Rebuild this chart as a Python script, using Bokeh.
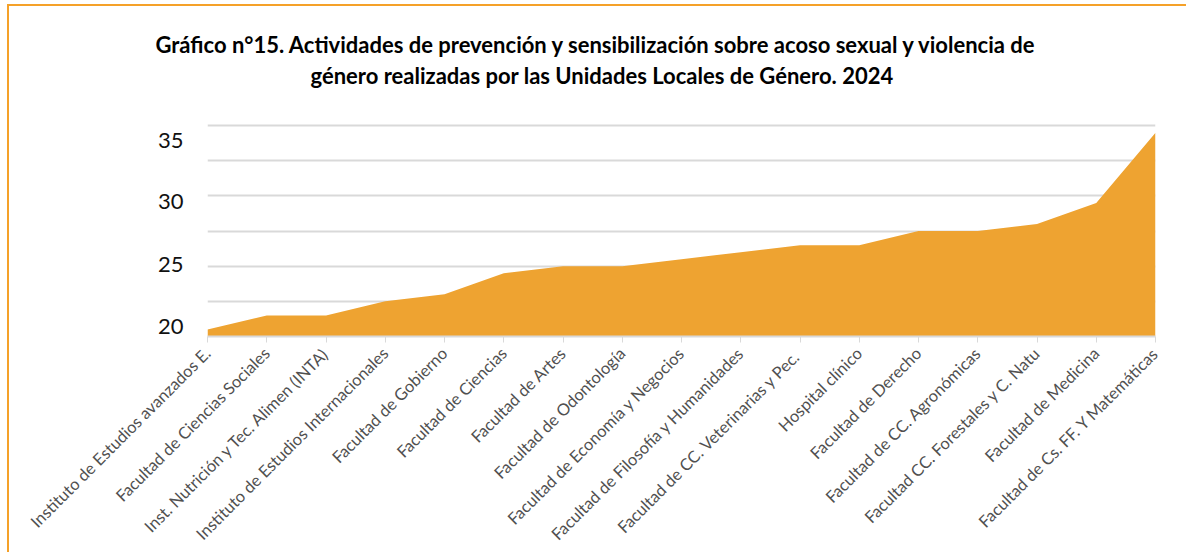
import math
from bokeh.plotting import figure
from bokeh.models import FixedTicker, ColumnDataSource, Range1d, Title
from bokeh.embed import file_html
from bokeh.resources import INLINE

# ---- data ----
categories = [
    "Instituto de Estudios avanzados E.",
    "Facultad de Ciencias Sociales",
    "Inst. Nutrición y Tec. Alimen (INTA)",
    "Instituto de Estudios Internacionales",
    "Facultad de Gobierno",
    "Facultad de Ciencias",
    "Facultad de Artes",
    "Facultad de Odontología",
    "Facultad de Economía y Negocios",
    "Facultad de Filosofía y Humanidades",
    "Facultad de CC. Veterinarias  y Pec.",
    "Hospital clínico",
    "Facultad de Derecho",
    "Facultad de CC. Agronómicas",
    "Facultad CC. Forestales y C. Natu",
    "Facultad de Medicina",
    "Facultad de Cs. FF. Y Matemáticas",
]
values = [1, 3, 3, 5, 6, 9, 10, 10, 11, 12, 13, 13, 15, 15, 16, 19, 29]
y_tick_labels = ["20", "25", "30", "35"]
title_lines = [
    "Gráfico n°15. Actividades de prevención y sensibilización sobre acoso sexual y violencia de",
    "género realizadas por las Unidades Locales de Género. 2024",
]

ORANGE = "#EEA331"
FONT = "Lato"

n = len(categories)
xs = list(range(n))

p = figure(
    x_range=Range1d(0, n - 1),
    y_range=Range1d(0, 35),
    width=1179, height=548,
    min_border_left=198, min_border_right=33,
    min_border_top=84, min_border_bottom=218,
    output_backend="svg", toolbar_location=None,
    background_fill_color="white", border_fill_color="white",
)
p.outline_line_color = None
p.styles = {"border-left": "2px solid #F5A129", "border-top": "2px solid #F5A129",
            "margin-left": "7px", "margin-top": "4px"}

src = ColumnDataSource(dict(x=xs, val=values, base=[0] * n))
p.varea(x="x", y1="base", y2="val", source=src, fill_color=ORANGE)

# grid
p.xgrid.grid_line_color = None
p.ygrid.ticker = FixedTicker(ticks=[0, 5, 10, 15, 20, 25, 30, 35])
p.ygrid.grid_line_color = "#D9D9D9"
p.ygrid.grid_line_width = 2

# y axis (labels placed where the reference shows them)
y_label_pos = [1.46, 10.3, 19.2, 27.9]
p.yaxis.ticker = FixedTicker(ticks=y_label_pos)
p.yaxis.major_label_overrides = {pos: lab for pos, lab in zip(y_label_pos, y_tick_labels)}
p.yaxis.axis_line_color = None
p.yaxis.major_tick_line_color = None
p.yaxis.minor_tick_line_color = None
p.yaxis.major_label_text_font = FONT
p.yaxis.major_label_text_font_size = "22px"
p.yaxis.major_label_text_color = "#111111"
p.yaxis.major_label_standoff = 18

# x axis
p.xaxis.ticker = FixedTicker(ticks=xs)
p.xaxis.major_label_overrides = {i: c for i, c in zip(xs, categories)}
p.xaxis.minor_tick_line_color = None
p.xaxis.axis_line_color = "#D9D9D9"
p.xaxis.axis_line_width = 2
p.xaxis.major_tick_line_color = "#D9D9D9"
p.xaxis.major_tick_line_width = 1
p.xaxis.major_tick_out = 6
p.xaxis.major_tick_in = 0
p.xaxis.major_label_orientation = math.pi / 4
p.xaxis.major_label_text_font = FONT
p.xaxis.major_label_text_font_size = "16.5px"
p.xaxis.major_label_text_color = "#505050"
p.xaxis.major_label_standoff = 8

# two-line title (second line added first: it sits closest to the plot)
p.add_layout(Title(text=title_lines[1], align="left", offset=103,
                   text_font=FONT, text_font_size="22px", text_font_style="bold",
                   text_color="#000000", standoff=4), "above")
p.add_layout(Title(text=title_lines[0], align="left", offset=-52,
                   text_font=FONT, text_font_size="22px", text_font_style="bold",
                   text_color="#000000", standoff=0), "above")

open("out.html", "w").write(file_html(p, INLINE))
